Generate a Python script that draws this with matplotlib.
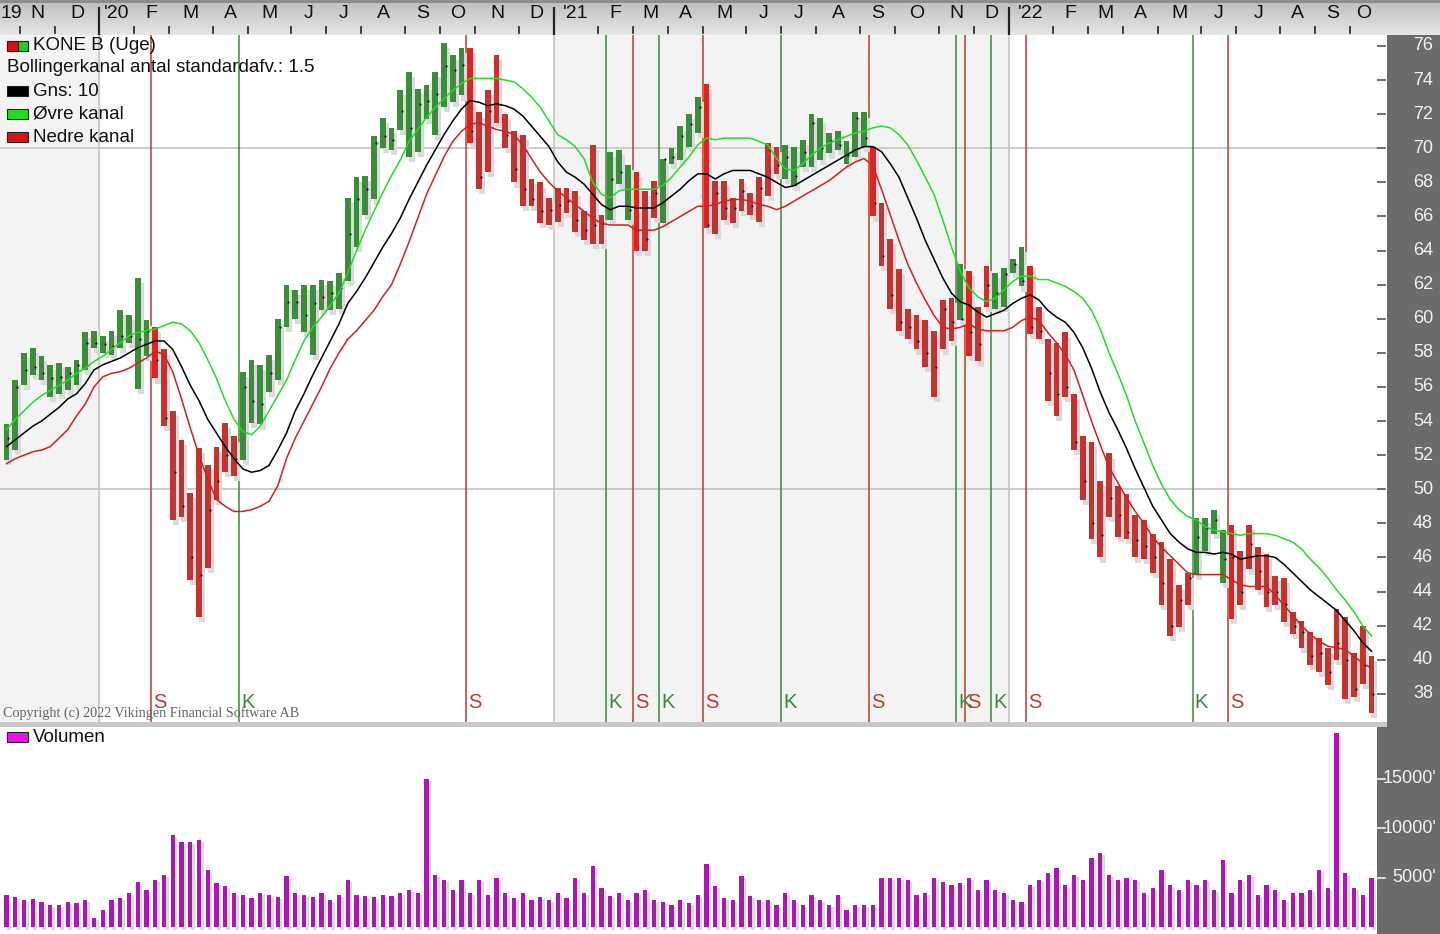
import matplotlib
matplotlib.use('Agg')
import matplotlib.pyplot as plt
from matplotlib.patches import Rectangle
import numpy as np
import datetime as dt

# ---------------- data (weekly, from week of 2019-10-14) ----------------
high = [53.8, 56.4, 58.0, 58.3, 57.8, 57.3, 57.4, 57.2, 57.6, 59.2,
        59.3, 59.0, 59.3, 60.5, 60.2, 62.4, 59.9, 59.5, 58.2, 54.6,
        52.9, 49.8, 52.4, 51.4, 52.5, 53.9, 53.1, 56.9, 57.6, 57.3,
        57.9, 60.0, 62.0, 61.7, 62.0, 62.0, 62.3, 62.2, 62.7, 67.1,
        68.3, 68.4, 70.7, 71.8, 71.2, 73.4, 74.5, 73.5, 73.7, 74.5,
        76.2, 75.5, 75.9, 75.9, 72.1, 73.4, 75.5, 72.0, 71.0, 70.8,
        68.2, 68.0, 67.1, 67.7, 67.7, 67.5, 66.3, 70.2, 66.1, 69.8,
        69.9, 69.0, 68.6, 67.5, 68.1, 69.4, 70.0, 71.3, 72.0, 73.0,
        73.8, 68.1, 68.1, 67.1, 68.2, 67.4, 68.3, 70.3, 70.1, 70.2,
        70.1, 70.5, 72.0, 71.8, 70.9, 71.0, 70.4, 72.1, 72.1, 70.1,
        66.8, 64.7, 62.9, 60.6, 60.2, 59.9, 59.3, 61.1, 61.2, 63.2,
        62.8, 60.7, 63.1, 62.7, 63.0, 63.5, 64.2, 63.1, 60.7, 58.8,
        58.6, 59.2, 55.6, 53.1, 52.8, 50.5, 52.1, 50.2, 49.7, 48.5,
        48.2, 47.4, 46.9, 45.9, 44.4, 45.1, 48.3, 48.3, 48.8, 47.6,
        47.9, 46.4, 47.9, 46.6, 46.2, 44.9, 44.8, 42.8, 42.3, 41.6,
        41.3, 40.7, 43.0, 42.5, 40.4, 42.0, 40.2]
low = [51.7, 52.3, 56.1, 56.7, 56.4, 55.4, 55.6, 55.8, 56.1, 57.0,
       58.3, 58.0, 57.9, 58.3, 58.6, 55.9, 57.8, 56.5, 53.7, 48.2,
       48.4, 44.7, 42.5, 45.4, 49.4, 51.0, 50.8, 51.7, 53.9, 53.8,
       55.7, 56.4, 59.5, 60.0, 59.2, 57.9, 60.5, 60.5, 60.6, 62.2,
       64.2, 66.1, 67.0, 70.0, 69.9, 71.1, 69.5, 69.8, 71.7, 70.8,
       72.4, 72.7, 73.1, 70.3, 67.6, 68.6, 71.5, 70.0, 68.0, 66.6,
       66.6, 65.6, 65.5, 65.7, 66.2, 65.1, 64.6, 64.4, 64.4, 65.8,
       67.9, 65.8, 64.0, 64.0, 65.9, 65.6, 69.1, 69.3, 70.1, 70.9,
       65.3, 65.0, 65.8, 65.6, 66.3, 66.1, 65.7, 67.2, 68.5, 68.2,
       67.8, 68.9, 68.9, 69.3, 69.7, 69.9, 69.1, 69.5, 70.1, 66.0,
       63.1, 60.6, 59.3, 58.8, 58.2, 57.2, 55.4, 58.2, 58.7, 59.9,
       57.8, 57.5, 60.7, 60.6, 60.7, 62.7, 61.9, 59.1, 58.8, 55.2,
       54.3, 55.4, 52.3, 49.4, 47.1, 46.0, 48.4, 47.2, 47.1, 46.0,
       45.9, 45.1, 43.2, 41.4, 41.9, 43.2, 45.0, 46.4, 47.4, 44.5,
       42.4, 43.2, 45.3, 44.1, 43.1, 43.2, 42.2, 41.5, 40.7, 39.7,
       39.3, 38.5, 40.0, 37.7, 37.8, 38.6, 36.9]
close = [53.0, 56.0, 57.0, 57.2, 56.8, 56.5, 56.6, 56.8, 57.3, 58.6,
         58.6, 58.5, 58.4, 59.0, 59.0, 58.8, 59.3, 57.6, 54.2, 51.0,
         49.0, 46.0, 45.0, 48.8, 50.5, 52.0, 51.8, 56.0, 55.2, 55.0,
         56.8, 59.5, 61.0, 61.0, 60.2, 60.9, 61.3, 61.5, 61.8, 65.0,
         67.0, 67.6, 70.3, 70.7, 70.5, 72.2, 71.2, 72.6, 72.8, 73.2,
         74.8, 74.6, 74.9, 71.0, 68.3, 72.2, 72.6, 70.8, 68.8, 67.6,
         67.0, 66.3, 66.4, 66.7, 66.9, 65.8, 65.2, 65.5, 65.6, 68.2,
         68.6, 66.4, 65.2, 64.7, 67.4, 69.4, 69.5, 70.7, 71.4, 72.4,
         65.5, 67.4, 66.5, 66.5, 67.5, 66.6, 67.7, 69.9, 69.0, 69.5,
         68.4, 69.8, 71.5, 70.0, 70.4, 70.2, 69.6, 71.8, 70.6, 66.8,
         63.7, 61.4, 59.8, 59.5, 58.7, 58.0, 57.2, 60.6, 59.8, 60.0,
         59.2, 58.5, 62.0, 61.5, 62.6, 63.2, 62.2, 59.5, 59.3, 56.8,
         55.6, 56.0, 52.8, 50.5, 48.0, 47.3, 49.5, 48.5, 47.5, 47.0,
         46.7, 46.0, 44.5, 42.0, 43.5, 44.8, 47.2, 47.7, 48.2, 45.9,
         46.0, 44.0, 46.8, 45.2, 44.0, 44.0, 43.3, 42.0, 41.6, 40.2,
         40.4, 39.3, 41.0, 40.0, 38.3, 39.7, 38.0]
upper = [53.5, 54.1, 54.6, 55.1, 55.5, 55.8, 56.1, 56.4, 56.8, 57.1,
         57.5, 57.8, 58.2, 58.6, 59.0, 59.2, 59.3, 59.4, 59.6, 59.8,
         59.7, 59.3, 58.6, 57.6, 56.5, 55.2, 54.1, 53.4, 53.2, 53.7,
         54.6, 55.5, 56.4, 57.6, 58.7, 59.5, 60.1, 60.8, 61.5, 62.7,
         64.0, 65.2, 66.3, 67.4, 68.4, 69.3, 70.4, 71.1, 71.8, 72.4,
         72.9, 73.4, 73.8, 74.1, 74.1, 74.1, 74.1, 74.0, 73.9, 73.5,
         73.0, 72.4, 71.6, 70.8, 70.5, 70.1, 69.4, 68.0, 67.3, 67.1,
         67.5, 67.6, 67.6, 67.6, 67.6, 67.8, 68.3, 68.9, 69.5, 70.2,
         70.6, 70.5, 70.6, 70.6, 70.6, 70.6, 70.4, 70.2, 69.4, 68.8,
         68.7, 69.1, 69.6, 70.0, 70.3, 70.5, 70.7, 70.9, 71.0, 71.2,
         71.3, 71.2, 70.8, 70.2, 69.3, 68.3, 67.3, 65.8, 64.2, 62.8,
         61.8, 61.3, 61.0, 61.2, 61.7, 62.2, 62.5, 62.5, 62.3, 62.3,
         62.1, 61.9, 61.6, 61.2, 60.5, 59.4, 58.0, 56.8, 55.5, 54.0,
         52.7, 51.4, 50.3, 49.4, 48.8, 48.4, 48.2, 47.8, 47.6, 47.5,
         47.4, 47.3, 47.4, 47.4, 47.4, 47.3, 47.1, 46.9, 46.5, 45.9,
         45.4, 44.8, 44.1, 43.5, 42.8, 42.0, 41.4]
middle = [52.5, 52.9, 53.3, 53.7, 54.0, 54.4, 54.8, 55.3, 55.6, 56.2,
          57.0, 57.3, 57.5, 57.7, 58.0, 58.3, 58.5, 58.7, 58.7, 58.2,
          57.2, 56.1, 55.2, 54.1, 53.3, 52.5, 51.8, 51.2, 51.0, 51.1,
          51.4, 52.3, 53.3, 54.6, 55.6, 56.7, 57.7, 58.7, 59.7, 60.9,
          61.6, 62.4, 63.3, 64.2, 65.0, 65.9, 67.0, 68.0, 69.0, 69.9,
          70.8, 71.6, 72.3, 72.8, 72.7, 72.5, 72.6, 72.5, 72.3, 71.9,
          71.3, 70.7, 70.1, 69.2, 68.6, 68.3, 67.9, 67.3, 66.7, 66.4,
          66.6, 66.6, 66.5, 66.5, 66.5, 66.8, 67.2, 67.6, 68.1, 68.5,
          68.5, 68.2, 68.5, 68.7, 68.7, 68.7, 68.5, 68.3, 68.0, 67.7,
          67.8, 68.1, 68.4, 68.7, 69.0, 69.3, 69.6, 69.9, 70.1, 70.1,
          69.8, 69.1, 68.3, 67.1, 65.9, 64.6, 63.5, 62.4, 61.5, 61.0,
          60.8, 60.4, 60.1, 60.3, 60.5, 60.9, 61.2, 61.4, 61.1, 60.5,
          60.1, 59.8, 59.2, 58.3, 57.1, 55.7, 54.5, 53.5, 52.4, 51.2,
          50.1, 49.0, 48.2, 47.4, 46.9, 46.5, 46.3, 46.3, 46.2, 46.3,
          46.2, 45.9, 46.0, 46.1, 46.1, 46.0, 45.6, 45.1, 44.6, 44.1,
          43.7, 43.3, 42.9, 42.3, 41.7, 41.0, 40.5]
lower = [51.5, 51.8, 52.0, 52.2, 52.3, 52.5, 53.0, 53.5, 54.3, 55.0,
         56.0, 56.6, 56.8, 56.9, 57.1, 57.4, 57.7, 58.1, 57.9, 56.9,
         55.3, 53.6, 52.0, 50.6, 49.4, 49.0, 48.7, 48.7, 48.8, 49.0,
         49.3, 50.2, 51.8, 53.0, 54.0, 55.0, 56.0, 57.1, 58.0, 58.8,
         59.3, 59.9, 60.5, 61.3, 62.0, 63.2, 64.5, 65.9, 67.3, 68.4,
         69.5, 70.4, 71.0, 71.4, 71.5, 71.3, 71.1, 71.0, 70.8, 70.2,
         69.4, 68.6, 68.0, 67.5, 67.1, 66.7, 66.3, 65.9, 65.6, 65.5,
         65.5, 65.5, 65.2, 65.2, 65.2, 65.4, 65.7, 66.0, 66.3, 66.6,
         66.6, 66.7, 66.9, 67.0, 67.0, 66.9, 66.7, 66.6, 66.4, 66.6,
         66.9, 67.2, 67.5, 67.8, 68.1, 68.5, 68.9, 69.2, 69.4, 69.0,
         67.6, 66.1, 64.6, 63.2, 62.1, 61.1, 60.2, 59.5, 59.4, 59.5,
         59.7, 59.4, 59.3, 59.3, 59.3, 59.5, 59.9, 60.1, 59.9, 59.2,
         58.6, 57.9, 57.0, 55.5, 54.0, 52.6, 51.3, 50.4, 49.5, 48.7,
         48.0, 47.2, 46.6, 46.1, 45.6, 45.1, 45.0, 45.0, 45.0, 45.0,
         44.7, 44.4, 44.3, 44.3, 44.3, 43.8, 43.2, 42.6, 42.0, 41.5,
         41.1, 40.8, 40.7, 40.6, 40.2, 39.8, 39.5]
volume = [3280, 3080, 2780, 2880, 2580, 2270, 2270, 2580, 2470, 2780,
          960, 1770, 2780, 2980, 3480, 4600, 3790, 4800, 5300, 9340,
          8640, 8640, 8840, 5810, 4490, 4190, 3480, 3280, 2980, 3480,
          3280, 3080, 5200, 3480, 3280, 3080, 3480, 2780, 3280, 4800,
          3280, 3180, 3080, 3280, 3180, 3480, 3790, 3480, 15000, 5300,
          4800, 3790, 4800, 3480, 4800, 3280, 5000, 3480, 2980, 3480,
          2780, 3080, 2780, 3480, 2980, 5000, 3480, 6210, 3990, 3180,
          3480, 2780, 3480, 3790, 2780, 2580, 2270, 2780, 2470, 3280,
          6410, 4190, 2980, 2780, 5200, 3180, 2780, 2780, 2270, 3480,
          2780, 2270, 3280, 2780, 2270, 3280, 1770, 2270, 2270, 2270,
          5000, 5000, 5000, 4800, 3280, 3480, 5000, 4600, 4290, 4490,
          5000, 3790, 4800, 3790, 3480, 2780, 2580, 4290, 4800, 5500,
          6010, 4290, 5300, 4800, 7020, 7530, 5300, 4800, 5000, 4800,
          3480, 3990, 5810, 4290, 3790, 4800, 4290, 4800, 3790, 6820,
          3480, 4800, 5300, 3280, 4290, 3790, 2780, 3480, 3480, 3790,
          5810, 3990, 19650, 5500, 3990, 3280, 5000]
signal_week = [17, 27, 53, 69, 72, 75, 80, 89, 99, 109, 110, 113, 117, 136, 140]
signal_type = ['S', 'K', 'S', 'K', 'S', 'K', 'S', 'K', 'S', 'K', 'S', 'K', 'S', 'K', 'S']
price_ticks = list(range(38, 77, 2))
volume_ticks = [5000, 10000, 15000]
month_letters = ['J', 'F', 'M', 'A', 'M', 'J', 'J', 'A', 'S', 'O', 'N', 'D']
first_week = dt.date(2019, 10, 14)

# ---------------- styling ----------------
W, H = 1440, 934
GREEN = '#3b8c3b'
RED = '#c43232'
RED_SIG = '#e02222'
SIG_RED = '#c0392b'
SIG_GREEN = '#3a8a3a'
SHADOW = '#dadada'
VOLC = '#a61aae'
PANEL = '#6b6b6b'
FONT = 'Liberation Sans'

fig = plt.figure(figsize=(W / 100, H / 100), dpi=100)
fig.patch.set_facecolor(PANEL)


def rect(l, t, r, b):
    return [l / W, 1 - b / H, (r - l) / W, (b - t) / H]


def ftext(px, py, s, **kw):
    kw.setdefault('family', FONT)
    return fig.text(px / W, 1 - py / H, s, **kw)


n = len(high)
xs = np.arange(n)
XL = (-6.5 / 8.75, (1377 - 6.5) / 8.75)


def week_of(d):
    return (d - first_week).days // 7


year_div = [week_of(dt.date(y, 1, 1)) - 0.43 for y in (2020, 2021, 2022)]

# regime colours from signals
colors = []
state = 'K'
sig_map = dict(zip(signal_week, signal_type))
for i in range(n):
    if i in sig_map:
        state = sig_map[i]
    if state == 'K':
        colors.append(GREEN)
    else:
        colors.append(RED_SIG if (i in sig_map) else RED)

# ---------------- price panel ----------------
ax = fig.add_axes(rect(0, 35, 1377, 722))
ax.set_facecolor('white')
ax.set_xlim(*XL)
ax.set_ylim(36.35, 76.645)
for s in ax.spines.values():
    s.set_visible(False)
ax.set_xticks([])
ax.set_yticks([])
ax.axvspan(XL[0], year_div[0], color='#f3f3f3', zorder=0)
ax.axvspan(year_div[1], year_div[2], color='#f3f3f3', zorder=0)
for d in year_div:
    ax.axvline(d, color='#c4c4c4', lw=1.2, zorder=1)
for hv in (50, 70):
    ax.axhline(hv, color='#c4c4c4', lw=1.2, zorder=1)

# signal lines
for w, t in zip(signal_week, signal_type):
    c = SIG_RED if t == 'S' else SIG_GREEN
    ax.axvline(w - 0.45, color=c, lw=1.1, zorder=2)
    ax.text(w - 0.2, 36.92, t, color=c, fontsize=14.5, family=FONT,
            ha='left', va='bottom', zorder=6)

hi = np.array(high)
lo = np.array(low)
ax.bar(xs + 0.32, hi - lo, bottom=lo - 0.3, width=0.68, color=SHADOW, zorder=3)
ax.bar(xs, hi - lo, bottom=lo, width=0.68, color=colors, zorder=4)
ax.scatter(xs + 0.2, close, s=2.5, color='#111111', zorder=5, linewidths=0)
ax.plot(xs, upper, color='#22dd22', lw=1.1, zorder=5)
ax.plot(xs, middle, color='black', lw=1.1, zorder=5)
ax.plot(xs, lower, color='#d42020', lw=1.1, zorder=5)

# ---------------- volume panel ----------------
vax = fig.add_axes(rect(0, 727, 1377, 934))
vax.set_facecolor('white')
vax.set_xlim(*XL)
vax.set_ylim(-660, 20250)
for s in vax.spines.values():
    s.set_visible(False)
vax.set_xticks([])
vax.set_yticks([])
vv = np.array(volume)
vax.bar(xs + 0.3, vv, bottom=-250, width=0.47, color=SHADOW, zorder=2)
vax.bar(xs, vv, width=0.47, color=VOLC, zorder=3)

# separator between panels
sep = fig.add_axes(rect(0, 722, 1387, 727))
sep.set_facecolor('#c8c8c8')
sep.set_xticks([]); sep.set_yticks([])
for s in sep.spines.values():
    s.set_visible(False)

# price: white strip with dark tick marks
tax = fig.add_axes(rect(1377, 35, 1387, 722))
tax.set_facecolor('white')
tax.set_xlim(0, 1)
tax.set_ylim(36.35, 76.645)
for s in tax.spines.values():
    s.set_visible(False)
tax.set_xticks([]); tax.set_yticks([])
for tv in price_ticks:
    tax.plot([0.0, 0.8], [tv, tv], color='#555555', lw=1.2)

# volume: light tick marks directly on the grey panel
vtax = fig.add_axes(rect(1377, 727, 1387, 934))
vtax.patch.set_alpha(0)
vtax.set_xlim(0, 1)
vtax.set_ylim(-660, 20250)
for s in vtax.spines.values():
    s.set_visible(False)
vtax.set_xticks([]); vtax.set_yticks([])
for tv in volume_ticks:
    vtax.plot([0.0, 0.8], [tv, tv], color='#eeeeee', lw=1.2)

# right labels
for p in price_ticks:
    py = 35 + (76.645 - p) / (76.645 - 36.35) * (722 - 35)
    ftext(1433, py, str(p), color='#f2f2f2', fontsize=13, ha='right', va='center')
for v in volume_ticks:
    py = 727 + (20250 - v) / (20250 + 660) * (934 - 727)
    ftext(1436, py, f"{v}'", color='#f2f2f2', fontsize=13, ha='right', va='center')

# ---------------- date band ----------------
dax = fig.add_axes(rect(0, 0, 1440, 35))
dax.set_xlim(XL[0], XL[0] + 1440 / 8.75)
dax.set_ylim(35, 0)
for s in dax.spines.values():
    s.set_visible(False)
dax.set_xticks([]); dax.set_yticks([])
grad = np.linspace(0, 1, 64).reshape(-1, 1)
dax.imshow(grad, extent=(XL[0], XL[0] + 1440 / 8.75, 35, 0), aspect='auto',
           cmap=matplotlib.colors.LinearSegmentedColormap.from_list(
               'g', ['#bdbdbd', '#e6e6e6']), zorder=0)
dax.axhline(1, color='#8a8a8a', lw=2, zorder=1)

months = []
y, m = 2019, 11
while (y, m) <= (2022, 10):
    months.append(dt.date(y, m, 1))
    m += 1
    if m == 13:
        y, m = y + 1, 1
ticks = [week_of(d) - 0.43 for d in months]
for k, d in enumerate(months):
    tpos = ticks[k]
    nxt = ticks[k + 1] if k + 1 < len(ticks) else XL[1]
    if d.month == 1:
        dax.plot([tpos, tpos], [8, 34], color='#222222', lw=1.6)
        lab = "'" + str(d.year)[2:]
    else:
        dax.plot([tpos, tpos], [27, 33], color='#222222', lw=1.2)
        lab = month_letters[d.month - 1]
    dax.text((tpos + nxt) / 2, 14, lab, ha='center', va='center',
             fontsize=14, family=FONT, color='#111111')
dax.text(XL[0] + 0.1, 14, '19', ha='left', va='center', fontsize=14,
         family=FONT, color='#111111')

# ---------------- legends / annotations ----------------
def swatch(x0, yc, colors_):
    wdt = 21 / len(colors_)
    for j, c in enumerate(colors_):
        fig.patches.append(Rectangle(((x0 + j * wdt) / W, 1 - (yc + 5) / H),
                                     wdt / W, 10 / H, transform=fig.transFigure,
                                     facecolor=c, edgecolor='#222222', lw=0.8,
                                     zorder=10))

rows = [(46, 'KONE B (Uge)', ['#dd1111', '#22cc22']),
        (68, 'Bollingerkanal antal standardafv.: 1.5', None),
        (91, 'Gns: 10', ['#000000']),
        (114, 'Øvre kanal', ['#22dd22']),
        (137, 'Nedre kanal', ['#dd1111'])]
for yc, txt, cs in rows:
    if cs is None:
        ftext(7, yc, txt, fontsize=13.5, va='center', ha='left', color='#111111')
    else:
        swatch(7, yc, cs)
        ftext(33, yc, txt, fontsize=13.5, va='center', ha='left', color='#111111')

swatch(7, 737, ['#ee11ee'])
ftext(33, 737, 'Volumen', fontsize=13.5, va='center', ha='left', color='#111111')

ftext(3, 713, 'Copyright (c) 2022 Vikingen Financial Software AB', fontsize=10.2,
      family='Liberation Serif', color='#666666', va='center', ha='left')

fig.savefig('out.png', dpi=100, facecolor=fig.get_facecolor())
